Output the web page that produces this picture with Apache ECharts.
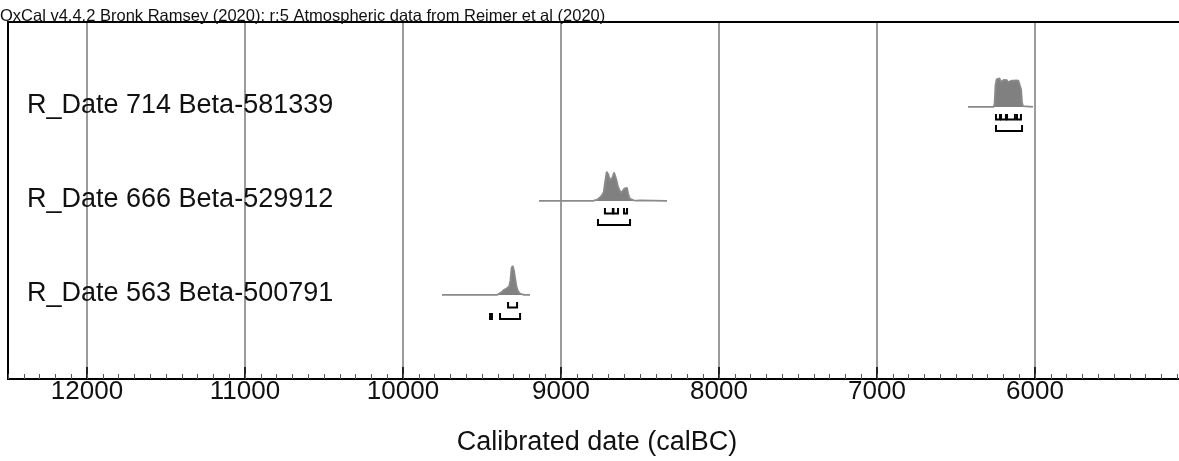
<!DOCTYPE html>
<html><head><meta charset="utf-8">
<script src="https://cdn.jsdelivr.net/npm/echarts@6/dist/echarts.min.js"></script>
<style>html,body{margin:0;padding:0;background:#fff;overflow:hidden}#c{width:1200px;height:461px}</style>
</head><body><div id="c"></div>
<script>
// ---------- data ----------
const headerText = 'OxCal v4.4.2 Bronk Ramsey (2020); r:5 Atmospheric data from Reimer et al (2020)';
const axisTitle = 'Calibrated date (calBC)';
const rowNames = ['R_Date 563 Beta-500791', 'R_Date 666 Beta-529912', 'R_Date 714 Beta-581339'];

// [calBC year, relative probability]
const dist563 = [[9753,0],[9455,0],[9449,0.05],[9443,0],[9405,0],[9395,0.03],[9375,0.1],[9360,0.18],[9345,0.22],[9335,0.23],[9328,0.3],[9320,0.5],[9313,0.92],[9306,1.0],[9298,0.85],[9291,0.6],[9281,0.27],[9272,0.13],[9260,0.05],[9249,0.02],[9235,0],[9196,0]];
const dist666 = [[9139,0],[8797,0],[8770,0.05],[8753,0.12],[8740,0.2],[8730,0.3],[8722,0.6],[8711,1.0],[8700,0.9],[8690,0.7],[8684,0.64],[8675,0.8],[8664,0.98],[8656,0.96],[8648,0.7],[8640,0.5],[8628,0.35],[8618,0.27],[8610,0.3],[8600,0.42],[8590,0.47],[8582,0.45],[8575,0.25],[8565,0.08],[8555,0.04],[8540,0.02],[8520,0.01],[8500,0.02],[8495,0],[8329,0]];
const dist714 = [[6424,0],[6345,0],[6340,0.03],[6335,0],[6262,0],[6256,0.1],[6250,0.75],[6243,0.95],[6235,1.0],[6225,0.98],[6215,0.86],[6208,0.84],[6198,0.93],[6188,0.95],[6178,0.92],[6170,0.85],[6162,0.87],[6150,0.9],[6135,0.9],[6120,0.91],[6105,0.9],[6095,0.86],[6088,0.6],[6082,0.15],[6076,0.03],[6068,0],[6013,0]];

// highest-density ranges [from, to] calBC
const r563_68 = [[9335,9278]];
const r563_95 = [[9449,9437],[9386,9259]];
const r666_68 = [[8722,8672],[8668,8639],[8601,8582]];
const r666_95 = [[8766,8563]];
const r714_68 = [[6247,6222],[6215,6184],[6177,6127],[6114,6089]];
const r714_95 = [[6247,6082]];

const dists = [dist563, dist666, dist714];
const ranges68 = [r563_68, r666_68, r714_68];
const ranges95 = [r563_95, r666_95, r714_95];

// ---------- chart ----------
const FONT = 'Liberation Sans, Arial, sans-serif';
const PEAK = 0.31; // peak height in row units
const chart = echarts.init(document.getElementById('c'), null, {renderer: 'canvas'});

const series = [];
dists.forEach((d, i) => {
  series.push({
    type: 'line', xAxisIndex: 0, yAxisIndex: 0,
    data: d.map(p => [p[0], i + p[1] * PEAK]),
    symbol: 'none', silent: true, animation: false,
    lineStyle: {color: '#8a8a8a', width: 1.8},
    areaStyle: {color: '#808080', opacity: 1, origin: i},
    z: 3
  });
});

series.push({
  type: 'custom', xAxisIndex: 0, yAxisIndex: 0, animation: false, silent: true, clip: false,
  data: rowNames.map((n, i) => [12500, i]),
  encode: {x: 0, y: 1},
  z: 4,
  renderItem: function (params, api) {
    const i = params.dataIndex;
    const base = api.coord([12500, i]);
    const children = [{
      type: 'text',
      style: {text: rowNames[i], x: base[0] + 19, y: base[1] - 1, fill: '#111',
        fontSize: 27, fontFamily: FONT, align: 'left', verticalAlign: 'middle'}
    }];
    const addBr = (list, top, bot) => list.forEach(r => {
      const a = api.coord([r[0], i]), b = api.coord([r[1], i]);
      children.push({
        type: 'polyline',
        shape: {points: [[a[0], base[1] + top], [a[0], base[1] + bot], [b[0], base[1] + bot], [b[0], base[1] + top]]},
        style: {stroke: '#000', lineWidth: 2, fill: null}
      });
    });
    addBr(ranges68[i], 7, 12.5);
    addBr(ranges95[i], 18, 24);
    return {type: 'group', children: children};
  }
});

chart.setOption({
  animation: false,
  backgroundColor: '#fff',
  title: {text: headerText, left: 0, top: 8, padding: 0,
    textStyle: {fontSize: 16.5, fontWeight: 'normal', fontFamily: FONT, color: '#111'}},
  grid: [
    {left: 8, right: 7, top: 22, bottom: 82, show: true, borderColor: '#000', borderWidth: 2, backgroundColor: 'transparent', z: 5},
    {left: 87, right: 165, top: 22, bottom: 82, show: false}
  ],
  xAxis: [
    {type: 'value', gridIndex: 0, min: 5000, max: 12500, interval: 100, inverse: true,
      axisLine: {show: true, onZero: false, lineStyle: {color: '#000', width: 2}},
      axisTick: {show: true, inside: true, length: 5, lineStyle: {color: '#555', width: 1}},
      axisLabel: {show: false}, splitLine: {show: false}, z: 6,
      name: axisTitle, nameLocation: 'middle', nameGap: 50,
      nameTextStyle: {fontSize: 27, fontFamily: FONT, color: '#111', padding: [0, 7, 0, 0]}},
    {type: 'value', gridIndex: 1, min: 6000, max: 12000, interval: 1000, inverse: true,
      axisLine: {show: false, onZero: false},
      axisTick: {show: true, inside: true, length: 12, lineStyle: {color: '#222', width: 2}},
      axisLabel: {show: true, margin: 0, fontSize: 26, fontFamily: FONT, color: '#111',
        formatter: v => String(v)},
      splitLine: {show: true, lineStyle: {color: '#7a7a7a', width: 1.5}}}
  ],
  yAxis: [
    {type: 'value', gridIndex: 0, min: -0.894, max: 2.904, show: false, splitLine: {show: false}},
    {type: 'value', gridIndex: 1, min: 0, max: 1, show: false, splitLine: {show: false}}
  ],
  series: series
});
</script>
</body></html>
